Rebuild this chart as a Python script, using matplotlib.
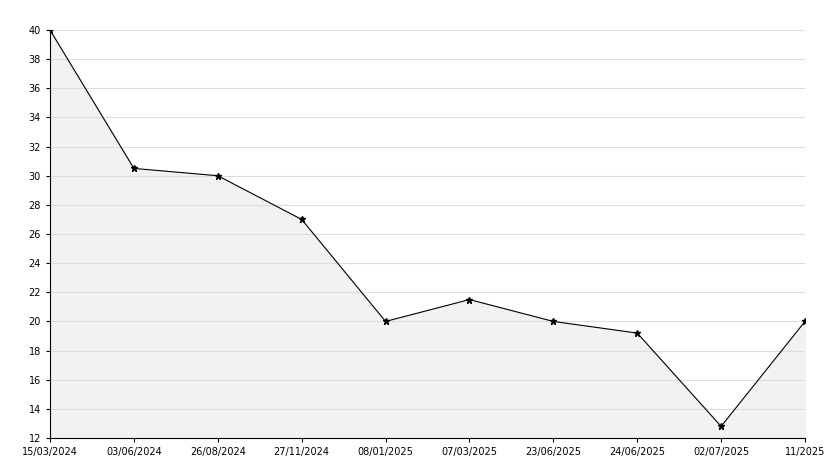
import matplotlib
matplotlib.use("Agg")
import matplotlib.pyplot as plt

labels = ["15/03/2024","03/06/2024","26/08/2024","27/11/2024","08/01/2025",
          "07/03/2025","23/06/2025","24/06/2025","02/07/2025","11/2025"]
values = [40, 30.5, 30, 27, 20, 21.5, 20, 19.2, 12.8, 20]

fig = plt.figure(figsize=(8.34, 4.68), dpi=100)
ax = fig.add_axes([50/834, 30/468, 755/834, 408/468])
x = list(range(len(values)))
ax.fill_between(x, values, 12, color="#f2f2f2", zorder=1)
ax.plot(x, values, color="black", lw=0.8, marker="*", ms=5, zorder=3)
ax.set_xlim(0, len(values)-1)
ax.set_ylim(12, 40)
ax.set_yticks(range(12, 41, 2))
ax.set_xticks(x)
ax.set_xticklabels(labels)
ax.tick_params(labelsize=7, length=3)
ax.grid(axis="y", color="#dddddd", lw=0.8, zorder=0)
for s in ["top", "right"]:
    ax.spines[s].set_visible(False)
fig.savefig("out.png", dpi=100)
